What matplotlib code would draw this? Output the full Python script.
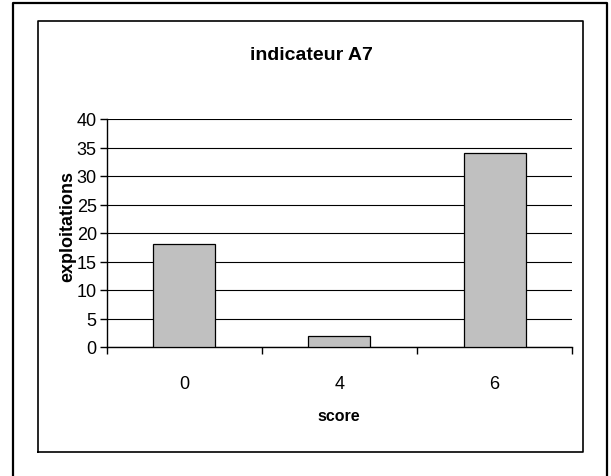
import matplotlib.pyplot as plt
from matplotlib.lines import Line2D

categories = ["0", "4", "6"]
exploitations = [18, 2, 34]
y_ticks = [0, 5, 10, 15, 20, 25, 30, 35, 40]

plt.rcParams["font.family"] = ["Liberation Sans", "DejaVu Sans"]

W, H = 611, 477
fig = plt.figure(figsize=(W / 100, H / 100), dpi=100)


def px_line(xs, ys, lw):
    fig.add_artist(Line2D([x / W for x in xs], [1 - y / H for y in ys],
                          transform=fig.transFigure, color="black", lw=lw))


# outer frame (open at the bottom) and inner chart frame
px_line([13, 13, 607, 607], [477, 4, 4, 477], 1.6)
px_line([38, 38, 583, 583, 38], [453, 22, 22, 453, 453], 1.2)

ax = fig.add_axes([106.5 / W, 1 - 348 / H, (572.3 - 106.5) / W, (348 - 120) / H])
pos = range(len(categories))
ax.bar(pos, exploitations, width=0.4, color="#c0c0c0", edgecolor="black", linewidth=0.9, zorder=3)

ax.set_xlim(-0.5, 2.5)
ax.set_ylim(0, 40)
ax.set_yticks(y_ticks)
ax.set_yticklabels([str(v) for v in y_ticks], fontsize=13)
ax.set_xticks([-0.5, 0.5, 1.5, 2.5])
ax.set_xticklabels([])
ax.set_xticks(list(pos), minor=True)
ax.set_xticklabels(categories, minor=True, fontsize=13)
ax.tick_params(axis="x", which="minor", length=0, pad=20)
ax.tick_params(axis="x", which="major", length=5, width=1)
ax.tick_params(axis="y", length=5, width=1, pad=2)
ax.yaxis.grid(True, color="black", linewidth=0.8, zorder=0)
ax.set_axisbelow(True)
for s in ["top", "right"]:
    ax.spines[s].set_visible(False)
for s in ["left", "bottom"]:
    ax.spines[s].set_linewidth(1)

fig.text(311 / W, 1 - 55 / H, "indicateur A7", ha="center", va="center",
         fontsize=14, fontweight="bold")
fig.text(339 / W, 1 - 417 / H, "score", ha="center", va="center",
         fontsize=11.5, fontweight="bold")
fig.text(68 / W, 1 - 227 / H, "exploitations", ha="center", va="center",
         rotation=90, fontsize=13, fontweight="bold")

plt.savefig("out.png", dpi=100)
